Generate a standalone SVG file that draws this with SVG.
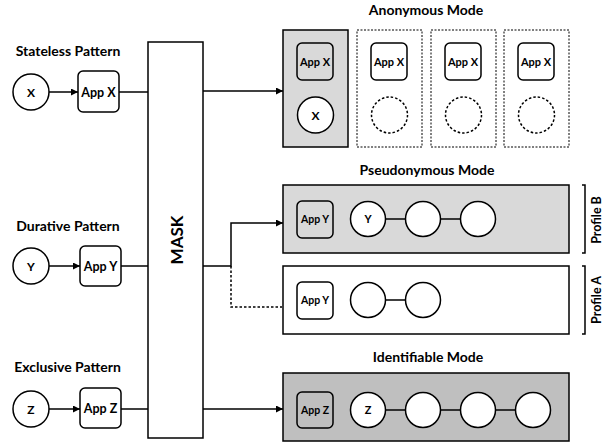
<svg xmlns="http://www.w3.org/2000/svg" width="609" height="443" viewBox="0 0 609 443">
<defs>
<marker id="arr" viewBox="0 0 10 10" refX="10" refY="5" markerWidth="9" markerHeight="7" markerUnits="userSpaceOnUse" orient="auto"><path d="M0,0 L10,5 L0,10 z" fill="#000"/></marker>
<style>
text{font-family:Lato,"Liberation Sans",sans-serif;font-weight:bold;fill:#000}
.lbl{font-size:14px;text-anchor:middle}
.app{font-size:12.5px;text-anchor:middle}
.apps{font-size:11px;text-anchor:middle}
.appt{font-size:10.5px;text-anchor:middle}
.cl{font-size:12px;text-anchor:middle}
.cls{font-size:11px;text-anchor:middle}
.box{fill:#fff;stroke:#000;stroke-width:1.5}
.appb{fill:#fff;stroke:#000;stroke-width:1.5}
.appg{fill:none;stroke:#000;stroke-width:1.5}
.cir{fill:#fff;stroke:#000;stroke-width:1.5}
.dcir{fill:none;stroke:#000;stroke-width:1.5;stroke-dasharray:2.5 2}
.dbox{fill:#fff;stroke:#000;stroke-width:1;stroke-dasharray:2 1.5}
.ln{fill:none;stroke:#000;stroke-width:1.5}
</style>
</defs>
<rect width="609" height="443" fill="#fff"/>

<g id="labels">
<text class="lbl" x="68" y="56">Stateless Pattern</text>
<text class="lbl" x="68" y="231">Durative Pattern</text>
<text class="lbl" x="67.5" y="372">Exclusive Pattern</text>
<text class="lbl" x="426" y="15">Anonymous Mode</text>
<text class="lbl" x="427" y="175">Pseudonymous Mode</text>
<text class="lbl" x="428" y="362">Identifiable Mode</text>
</g>

<g id="connectors">
<line class="ln" x1="49" y1="92" x2="78" y2="92" marker-end="url(#arr)"/>
<line class="ln" x1="119" y1="92" x2="148" y2="92"/>
<line class="ln" x1="203" y1="91" x2="283" y2="91" marker-end="url(#arr)"/>
<line class="ln" x1="49" y1="266" x2="80" y2="266" marker-end="url(#arr)"/>
<line class="ln" x1="121" y1="266" x2="148" y2="266"/>
<path class="ln" d="M203,266 H231 V223 H283" marker-end="url(#arr)"/>
<path class="ln" d="M231,266 V307 H282" stroke-dasharray="2.5 2"/>
<line class="ln" x1="49" y1="409" x2="80" y2="409" marker-end="url(#arr)"/>
<line class="ln" x1="121" y1="409" x2="148" y2="409"/>
<line class="ln" x1="203" y1="409" x2="283" y2="409" marker-end="url(#arr)"/>
</g>

<g id="node-x">
<circle class="cir" cx="31" cy="92" r="18"/>
<text class="cl" x="31" y="96.5">X</text>
</g>
<g id="node-appx">
<rect class="appb" x="78" y="71" width="41" height="41" rx="5"/>
<text class="app" x="98.5" y="96.5">App X</text>
</g>
<g id="node-y">
<circle class="cir" cx="31" cy="266" r="18"/>
<text class="cl" x="31" y="270.5">Y</text>
</g>
<g id="node-appy">
<rect class="appb" x="80" y="246" width="41" height="40" rx="5"/>
<text class="app" x="100.5" y="270.5">App Y</text>
</g>
<g id="node-z">
<circle class="cir" cx="31" cy="409" r="18"/>
<text class="cl" x="31" y="413.5">Z</text>
</g>
<g id="node-appz">
<rect class="appb" x="80" y="388" width="41" height="40" rx="5"/>
<text class="app" x="100.5" y="412.5">App Z</text>
</g>

<g id="node-mask">
<rect class="box" x="148" y="42" width="55" height="396"/>
<text x="183" y="240" font-size="17" text-anchor="middle" transform="rotate(-90 183 240)">MASK</text>
</g>

<g id="anon-1">
<rect x="283" y="30" width="65" height="117" fill="#d9d9d9" stroke="#000" stroke-width="1.5"/>
<rect class="appg" x="297" y="43" width="36" height="37" rx="5"/>
<text class="apps" x="315" y="65.5">App X</text>
<circle class="cir" cx="315.5" cy="115" r="18"/>
<text class="cl" x="315.5" y="119.5">X</text>
</g>
<g id="anon-2">
<rect class="dbox" x="357" y="30" width="65" height="117"/>
<rect class="appb" x="371" y="43" width="36" height="37" rx="5"/>
<text class="apps" x="389" y="65.5">App X</text>
<circle class="dcir" cx="389.5" cy="115" r="18"/>
</g>
<g id="anon-3">
<rect class="dbox" x="431" y="30" width="65" height="117"/>
<rect class="appb" x="445" y="43" width="36" height="37" rx="5"/>
<text class="apps" x="463" y="65.5">App X</text>
<circle class="dcir" cx="463.5" cy="115" r="18"/>
</g>
<g id="anon-4">
<rect class="dbox" x="504" y="30" width="65" height="117"/>
<rect class="appb" x="518" y="43" width="36" height="37" rx="5"/>
<text class="apps" x="536" y="65.5">App X</text>
<circle class="dcir" cx="536.5" cy="115" r="18"/>
</g>

<g id="profile-b">
<rect x="283" y="185" width="286" height="68" fill="#d9d9d9" stroke="#000" stroke-width="1.5"/>
<rect class="appg" x="297" y="201" width="36" height="37" rx="5"/>
<text class="appt" x="315" y="223">App Y</text>
<line class="ln" x1="385.5" y1="219" x2="405.5" y2="219"/>
<line class="ln" x1="440.5" y1="219" x2="460.5" y2="219"/>
<circle class="cir" cx="368" cy="219" r="17.5"/>
<text class="cls" x="368" y="223">Y</text>
<circle class="cir" cx="423" cy="219" r="17.5"/>
<circle class="cir" cx="478" cy="219" r="17.5"/>
<path class="ln" d="M582,185 H585 V253 H582" stroke-width="1.2"/>
<text x="601" y="220" font-size="12.5" text-anchor="middle" transform="rotate(-90 601 220)">Profile B</text>
</g>

<g id="profile-a">
<rect class="box" x="283" y="266" width="286" height="68"/>
<rect class="appb" x="297" y="282" width="36" height="37" rx="5"/>
<text class="appt" x="315" y="304">App Y</text>
<line class="ln" x1="385.5" y1="300" x2="405.5" y2="300"/>
<circle class="cir" cx="368" cy="300" r="17.5"/>
<circle class="cir" cx="423" cy="300" r="17.5"/>
<path class="ln" d="M582,266 H585 V334 H582" stroke-width="1.2"/>
<text x="601" y="300" font-size="12.5" text-anchor="middle" transform="rotate(-90 601 300)">Profile A</text>
</g>

<g id="identifiable">
<rect x="283" y="373" width="286" height="68" fill="#bfbfbf" stroke="#000" stroke-width="1.5"/>
<rect class="appg" x="297" y="392" width="36" height="36" rx="5"/>
<text class="appt" x="315" y="414">App Z</text>
<line class="ln" x1="385.5" y1="410" x2="405.5" y2="410"/>
<line class="ln" x1="440.5" y1="410" x2="460.5" y2="410"/>
<line class="ln" x1="495.5" y1="410" x2="515.5" y2="410"/>
<circle class="cir" cx="368" cy="410" r="17.5"/>
<text class="cls" x="368" y="414">Z</text>
<circle class="cir" cx="423" cy="410" r="17.5"/>
<circle class="cir" cx="478" cy="410" r="17.5"/>
<circle class="cir" cx="533" cy="410" r="17.5"/>
</g>
</svg>
